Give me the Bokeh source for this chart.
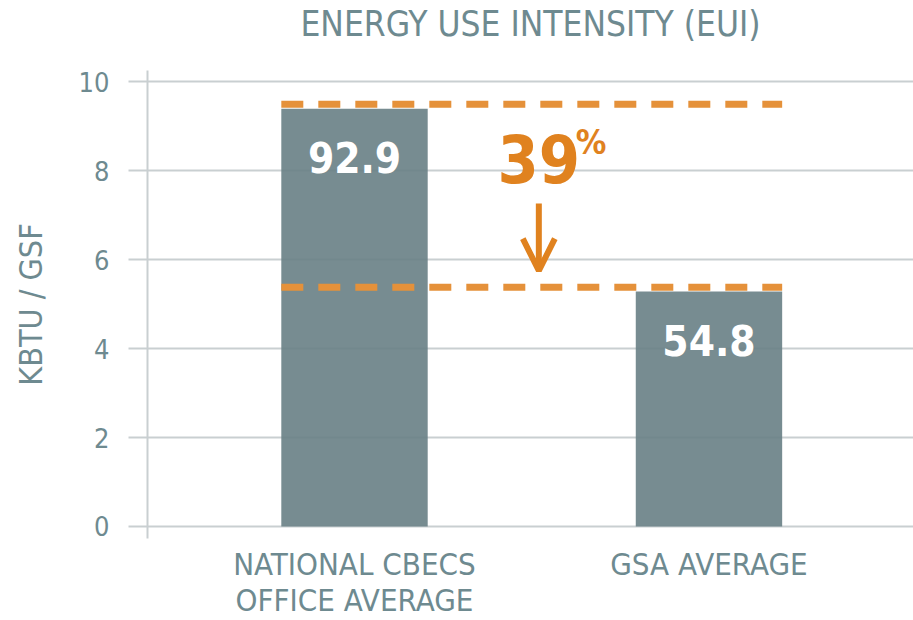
from bokeh.plotting import figure
from bokeh.models import Range1d, FixedTicker, Label, Arrow, OpenHead, LinearAxis
from bokeh.core.properties import value
from bokeh.embed import file_html
from bokeh.resources import INLINE

# ---- data ----
categories = ["NATIONAL CBECS\nOFFICE AVERAGE", "GSA AVERAGE"]
bar_values = [9.39, 5.28]
bar_labels = ["92.9", "54.8"]
reference_levels = [9.49, 5.38]
reduction_text = "39"
y_ticks = [0, 2, 4, 6, 8, 10]
title_text = "ENERGY USE INTENSITY (EUI)"
y_label = "KBTU / GSF"

FONT = "'Liberation Sans Narrow', 'Arial Narrow', 'DejaVu Sans Condensed', sans-serif"
GRAY_TEXT = "#6E8A90"
GRID = "#C9CFD1"
BAR = "#687F85"
ORANGE = "#E5913A"
ORANGE_TEXT = "#E0821F"

xs = [i + 1 for i in range(len(categories))]
bar_w = 0.413
x0, x1 = 0.416, 2.577
y0, y1 = -0.27, 10.25

p = figure(width=913, height=620, title=None,
           x_range=Range1d(x0, x1), y_range=Range1d(y0, y1),
           output_backend="svg", toolbar_location=None,
           min_border_left=147, min_border_right=0,
           min_border_top=70, min_border_bottom=82)

# chart title, set as the label of a bare axis above the frame
title_axis = LinearAxis(ticker=FixedTicker(ticks=[]), axis_label=title_text,
                        axis_line_color=None, major_tick_line_color=None,
                        minor_tick_line_color=None,
                        axis_label_standoff=27,
                        axis_label_text_font=FONT, axis_label_text_font_size="35px",
                        axis_label_text_font_style="normal",
                        axis_label_text_color=GRAY_TEXT)
title_axis.major_tick_out = 0
title_axis.major_tick_in = 0
title_axis.minor_tick_out = 0
title_axis.minor_tick_in = 0
p.add_layout(title_axis, "above")

p.outline_line_color = None
p.xgrid.visible = False
p.ygrid.ticker = FixedTicker(ticks=y_ticks)
p.ygrid.grid_line_color = GRID
p.ygrid.grid_line_width = 2

# y axis
p.yaxis.ticker = FixedTicker(ticks=y_ticks)
p.yaxis.axis_label = y_label
p.yaxis.axis_label_text_font = FONT
p.yaxis.axis_label_text_font_size = "32px"
p.yaxis.axis_label_text_font_style = "normal"
p.yaxis.axis_label_text_color = GRAY_TEXT
p.yaxis.axis_label_standoff = 26
p.yaxis.major_label_text_font = FONT
p.yaxis.major_label_text_font_size = "27px"
p.yaxis.major_label_text_color = GRAY_TEXT
p.yaxis.major_label_standoff = 19
p.yaxis.major_tick_out = 19
p.yaxis.major_tick_in = 0
p.yaxis.minor_tick_line_color = None
p.yaxis.major_tick_line_color = GRID
p.yaxis.major_tick_line_width = 2
p.yaxis.axis_line_color = GRID
p.yaxis.axis_line_width = 2

# x axis (category labels)
xaxis = p.below[0]
xaxis.ticker = FixedTicker(ticks=xs)
xaxis.major_label_overrides = {x: c for x, c in zip(xs, categories)}
xaxis.major_label_text_font = FONT
xaxis.major_label_text_font_size = "31px"
xaxis.major_label_text_line_height = 1.0
xaxis.major_label_text_color = GRAY_TEXT
xaxis.major_label_standoff = 7
xaxis.major_tick_out = 0
xaxis.major_tick_in = 0
xaxis.axis_line_color = None
xaxis.major_tick_line_color = None
xaxis.minor_tick_line_color = None

# bars
p.vbar(x=xs, top=bar_values, bottom=0, width=bar_w,
       fill_color=BAR, fill_alpha=0.9, line_color=None)

# dashed reference lines spanning both bars
left_edge = xs[0] - bar_w / 2
right_edge = xs[-1] + bar_w / 2
p.segment(x0=[left_edge] * len(reference_levels), x1=[right_edge] * len(reference_levels),
          y0=reference_levels, y1=reference_levels,
          line_color=ORANGE, line_width=7, line_dash="22 15")

# bar value labels
p.text(x=xs, y=bar_values, text=bar_labels, y_offset=49,
       text_align="center", text_baseline="alphabetic",
       text_font=value(FONT), text_font_size="42px", text_font_style="bold",
       text_color="white")

# reduction annotation
mid_x = 1.52
p.add_layout(Label(x=mid_x, y=7.71, y_offset=25, text=reduction_text, text_align="center",
                   text_baseline="alphabetic", text_font=FONT, text_font_size="66px",
                   text_font_style="bold", text_color=ORANGE_TEXT))
p.add_layout(Label(x=mid_x, y=7.71, x_offset=37, y_offset=41, text="%", text_align="left",
                   text_baseline="alphabetic", text_font=FONT, text_font_size="34px",
                   text_font_style="bold", text_color=ORANGE_TEXT))
p.add_layout(Arrow(x_start=mid_x, y_start=7.26, x_end=mid_x, y_end=5.75,
                   line_color=ORANGE_TEXT, line_width=6,
                   end=OpenHead(size=32, line_color=ORANGE_TEXT, line_width=6)))

open("out.html", "w").write(file_html(p, INLINE))
